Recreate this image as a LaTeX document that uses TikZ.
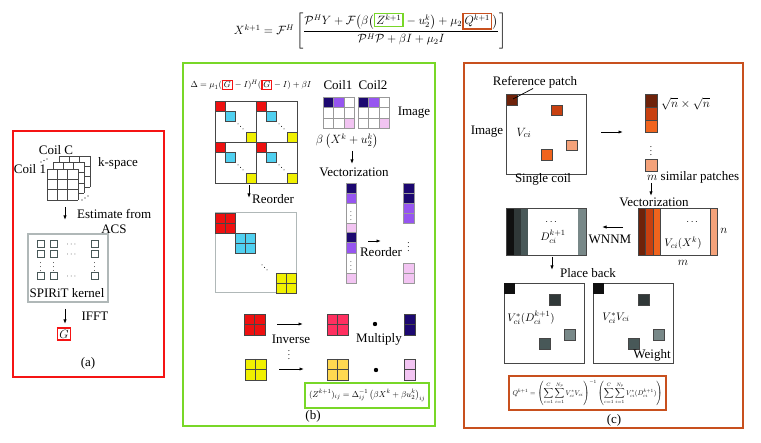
\documentclass[tikz,border=0pt]{standalone}
\usepackage{amsmath}
\usepackage{graphicx}
\usepackage{fontspec}
\setmainfont{Liberation Serif}
\usetikzlibrary{arrows.meta,calc}
\definecolor{redc}{RGB}{245,20,20}
\definecolor{greenc}{RGB}{120,215,40}
\definecolor{orangec}{RGB}{200,80,30}
\definecolor{cyanc}{RGB}{80,208,240}
\definecolor{yellowc}{RGB}{240,240,0}
\definecolor{blockred}{RGB}{238,16,16}
\definecolor{crimson}{RGB}{255,48,96}
\definecolor{goldc}{RGB}{255,216,80}
\definecolor{navyc}{RGB}{28,8,112}
\definecolor{purplec}{RGB}{150,85,240}
\definecolor{pinkc}{RGB}{242,196,242}
\definecolor{brownc}{RGB}{110,34,10}
\definecolor{org2}{RGB}{200,64,16}
\definecolor{org3}{RGB}{240,100,30}
\definecolor{org4}{RGB}{244,162,122}
\definecolor{blk}{RGB}{16,16,16}
\definecolor{dg1}{RGB}{48,56,56}
\definecolor{dg2}{RGB}{72,88,88}
\definecolor{dg3}{RGB}{120,136,136}
\definecolor{gridc}{RGB}{70,70,70}
\definecolor{lgray}{RGB}{176,184,184}
\newcommand\colbox[2]{{\setlength\fboxsep{1pt}\setlength\fboxrule{1.5pt}\fcolorbox{#1}{white}{$#2$}}}
\newcommand\kgrid[2]{\begin{scope}[shift={(#1,#2)}]
 \fill[white] (0,0) rectangle (31,31);
 \foreach \i in {0,10.33,20.67,31}{\draw[gridc,line width=0.7pt] (\i,0)--(\i,31); \draw[gridc,line width=0.7pt] (0,\i)--(31,\i);}
 \end{scope}}
% 2x2 block: x y size color
\newcommand\bblock[4]{\fill[#4] (#1,#2) rectangle ++(#3,#3);
 \draw[gridc,line width=0.6pt] (#1,#2) rectangle ++(#3,#3);
 \draw[gridc,line width=0.6pt] ($(#1,#2)+(0.5*#3,0)$) -- ++(0,#3);
 \draw[gridc,line width=0.6pt] ($(#1,#2)+(0,0.5*#3)$) -- ++(#3,0);}
\begin{document}
\begin{tikzpicture}[x=1pt,y=-1pt,font=\fontsize{13}{15}\selectfont,
  arr/.style={-{Latex[length=4.5pt,width=3.2pt]},line width=0.8pt},
  lbl/.style={inner sep=0pt},
  sq/.style={draw=dg2,line width=1pt,fill=white}]
\useasboundingbox (0,0) rectangle (761,443);
\fill[white] (0,0) rectangle (761,443);

% ---------- top formula
\node[lbl,font=\fontsize{11.5}{14}\selectfont] (topf) at (370,31)
 {$X^{k+1}=\mathcal{F}^{H}\left[\dfrac{\mathcal{P}^{H}Y+\mathcal{F}\bigl(\beta\bigl(\colbox{greenc}{Z^{k+1}}-u_2^{k}\bigr)+\mu_2\colbox{orangec}{Q^{k+1}}\bigr)}{\mathcal{P}^{H}\mathcal{P}+\beta I+\mu_2 I}\right]$};

% ---------- panel (a)
\draw[redc,line width=1.8pt] (13,131) rectangle (164,377);
\kgrid{59}{156}
\kgrid{53}{162.5}
\kgrid{47}{169}
\node[lbl] (coilC) at (56,150) {Coil C};
\node[lbl] (coil1) at (30,169) {Coil 1};
\foreach \p in {(41,162),(44,160.5),(47,159)} \fill \p circle (0.6);
\foreach \p in {(82,200),(85,198),(88,196)} \fill \p circle (0.6);
\node[lbl] (kspace) at (118,163) {k-space};
\coordinate (a1s) at (65,207); \coordinate (a1e) at (65,220);
\draw[arr] (a1s) -- (a1e);
\node[lbl,anchor=west] (est) at (77,214) {Estimate from};
\node[lbl] (acs) at (114,229) {ACS};
\draw[lgray,line width=1.2pt] (28,234) rectangle (108,302);
\foreach \x in {37,50,91}{\foreach \y in {241,251,273}{\draw[sq] (\x,\y) rectangle ++(7,7);}
  \node[lbl,font=\fontsize{8}{8}\selectfont] at (\x+3.5,264) {$\vdots$};}
\foreach \y in {241,251,273} \node[lbl,font=\fontsize{8}{8}\selectfont] at (72,\y+3.5) {$\cdots$};
\node[lbl] (spirit) at (67,293) {SPIRiT kernel};
\coordinate (a2s) at (65,309); \coordinate (a2e) at (65,324);
\draw[arr] (a2s) -- (a2e);
\node[lbl] (ifft) at (95,316) {IFFT};
\node[lbl] (G) at (64,334) {\colbox{redc}{G}};
\node[lbl] (la) at (88,363) {(a)};

% ---------- panel (b)
\draw[greenc,line width=1.8pt] (183,63) rectangle (435,426);
\node[lbl,font=\fontsize{11}{13}\selectfont] (delta) at (251,85)
 {\resizebox{121pt}{!}{$\Delta=\mu_1(\colbox{redc}{G}-I)^{H}(\colbox{redc}{G}-I)+\beta I$}};
\foreach \bx in {215,256}{\foreach \by in {101,142}{
  \fill[blockred] (\bx,\by) rectangle ++(10,10);
  \fill[cyanc] (\bx+10,\by+10) rectangle ++(10,10);
  \fill[yellowc] (\bx+31,\by+31) rectangle ++(10,10);
  \draw[gridc,line width=0.5pt] (\bx,\by) rectangle ++(10,10) (\bx+10,\by+10) rectangle ++(10,10) (\bx+31,\by+31) rectangle ++(10,10);
  \foreach \d in {0,2.5,5} \fill (\bx+23+\d,\by+23+\d) circle (0.5);
}}
\draw[gridc,line width=0.8pt] (215,101) rectangle (297,183) (256,101) -- (256,183) (215,142) -- (297,142);
\coordinate (b1s) at (249,185); \coordinate (b1e) at (249,198);
\draw[arr] (b1s) -- (b1e);
\node[lbl,anchor=west] (reord1) at (252,199) {Reorder};
\draw[lgray,line width=1pt] (215,213) rectangle (296,293);
\bblock{215}{213}{20}{blockred}
\bblock{235}{233}{20}{cyanc}
\bblock{276}{273}{20}{yellowc}
\foreach \d in {0,2.5,5} \fill (262+\d,265+\d) circle (0.5);

\node[lbl] (coil1l) at (338,85) {Coil1};
\node[lbl] (coil2l) at (373,85) {Coil2};
\foreach \gx in {323,358}{
  \fill[navyc] (\gx,97) rectangle ++(10.5,10.5);
  \fill[purplec] (\gx+10.5,97) rectangle ++(10.5,10.5);
  \fill[pinkc] (\gx+21,118) rectangle ++(10.5,10.5);
  \foreach \i in {0,10.5,21,31.5}{\draw[gray!80,line width=0.6pt] (\gx+\i,97)--(\gx+\i,128.5); \draw[gray!80,line width=0.6pt] (\gx,97+\i)--(\gx+31.5,97+\i);}
}
\node[lbl] (imagel) at (414,113) {Image};
\node[lbl,font=\fontsize{12}{14}\selectfont] (betaf) at (347,141) {$\beta\left(X^{k}+u_2^{k}\right)$};
\coordinate (b2s) at (352,151); \coordinate (b2e) at (352,164);
\draw[arr] (b2s) -- (b2e);
\node[lbl] (vect1) at (354,172) {Vectorization};
% left vector
\fill[navyc] (346,183) rectangle (356,193);
\fill[purplec] (346,193) rectangle (356,203);
\fill[pinkc] (346,223) rectangle (356,232);
\fill[navyc] (346,232) rectangle (356,242);
\fill[purplec] (346,242) rectangle (356,253);
\fill[pinkc] (346,273) rectangle (356,283);
\draw[gray!80,line width=0.6pt] (346,183) rectangle (356,283);
\foreach \y in {193,203,223,232,242,253,273} \draw[gray!80,line width=0.6pt] (346,\y) -- (356,\y);
\node[lbl,font=\fontsize{7}{7}\selectfont] at (351,213) {$\vdots$};
\node[lbl,font=\fontsize{7}{7}\selectfont] at (351,263) {$\vdots$};
% right vector
\fill[navyc] (403,183) rectangle (414,203);
\fill[purplec] (403,203) rectangle (414,223);
\fill[pinkc] (403,263) rectangle (414,283);
\draw[gray!80,line width=0.6pt] (403,183) rectangle (414,223) (403,193)--(414,193) (403,203)--(414,203) (403,213)--(414,213);
\draw[gray!80,line width=0.6pt] (403,263) rectangle (414,283) (403,273)--(414,273);
\node[lbl,font=\fontsize{9}{9}\selectfont] at (408.5,244) {$\vdots$};
\coordinate (b3s) at (368,241); \coordinate (b3e) at (381,241);
\draw[arr] (b3s) -- (b3e);
\node[lbl] (reord2) at (381,252) {Reorder};
% bottom
\bblock{244}{314}{21}{blockred}
\bblock{327}{314}{21}{crimson}
\bblock{245}{359}{21}{yellowc}
\bblock{327}{359}{21}{goldc}
\fill[navyc] (404,314) rectangle (415,335);
\draw[gridc,line width=0.6pt] (404,314) rectangle (415,335) (404,324.5)--(415,324.5);
\fill[pinkc] (404,359) rectangle (415,380);
\draw[gridc,line width=0.6pt] (404,359) rectangle (415,380) (404,369.5)--(415,369.5);
\coordinate (b4s) at (277,324); \coordinate (b4e) at (303,324);
\draw[arr] (b4s) -- (b4e);
\coordinate (b5s) at (279,369); \coordinate (b5e) at (304,369);
\draw[arr] (b5s) -- (b5e);
\node[lbl] (inv) at (291,339) {Inverse};
\node[lbl,font=\fontsize{9}{9}\selectfont] at (289,352) {$\vdots$};
\node[lbl] (mult) at (379,339) {Multiply};
\fill (375,324) circle (2.2);
\fill (376,370) circle (2.2);
\draw[greenc,line width=1.8pt] (305,383) rectangle (429,408);
\node[lbl,font=\fontsize{11}{12}\selectfont] (zf) at (367,395.5)
 {\resizebox{116pt}{!}{$(Z^{k+1})_{ij}=\Delta_{ij}^{-1}\left(\beta X^{k}+\beta u_2^{k}\right)_{ij}$}};
\node[lbl] (lb) at (313,416) {(b)};

% ---------- panel (c)
\draw[orangec,line width=1.8pt] (464,63) rectangle (743,428);
\node[lbl] (refp) at (535,82) {Reference patch};
\draw[gridc,line width=0.8pt] (506,94) rectangle (586,174);
\fill[brownc] (506,94) rectangle ++(11,11);
\draw[gridc,line width=0.5pt] (506,94) rectangle ++(11,11);
\draw[gridc,line width=0.5pt,fill=org2] (551,105) rectangle ++(11,10);
\draw[gridc,line width=0.5pt,fill=org4] (566,140) rectangle ++(11,10);
\draw[gridc,line width=0.5pt,fill=org3] (541,149) rectangle ++(11,11);
\coordinate (refs) at (513,99);
\draw[line width=0.7pt] (refs) -- (533,88.5);
\node[lbl] (vci) at (524,133) {$V_{ci}$};
\node[lbl] (imgc) at (487,132) {Image};
\node[lbl] (single) at (543,179) {Single coil};
\coordinate (c1s) at (601,132); \coordinate (c1e) at (623,132);
\draw[arr] (c1s) -- (c1e);
\draw[gridc,line width=0.5pt,fill=brownc] (645,94) rectangle (657,107);
\draw[gridc,line width=0.5pt,fill=org2] (645,107) rectangle (657,120);
\draw[gridc,line width=0.5pt,fill=org3] (645,120) rectangle (657,132);
\node[lbl,font=\fontsize{9}{9}\selectfont] at (651,148) {$\vdots$};
\draw[gridc,line width=0.5pt,fill=org4] (645,159) rectangle (657,171);
\node[lbl,anchor=west] (sqrtn) at (661,104) {$\sqrt{n}\times\sqrt{n}$};
\node[lbl,anchor=west] (msim) at (647,177) {$m$ similar patches};
\coordinate (c2s) at (651,183); \coordinate (c2e) at (651,196);
\draw[arr] (c2s) -- (c2e);
\node[lbl] (vect2) at (654,202) {Vectorization};
% right matrix
\fill[brownc] (638,208) rectangle (645,255);
\fill[org2] (645,208) rectangle (653,255);
\fill[org3] (653,208) rectangle (660,255);
\fill[org4] (710,208) rectangle (717,255);
\draw[gridc,line width=0.6pt] (638,208) rectangle (717,255) (645,208)--(645,255) (653,208)--(653,255) (660,208)--(660,255) (710,208)--(710,255);
\node[lbl,font=\fontsize{10}{10}\selectfont] at (693,222) {$\cdots$};
\node[lbl,font=\fontsize{11}{12}\selectfont] (vcix) at (683,243) {$V_{ci}(X^{k})$};
\node[lbl] (nl) at (724,231) {$n$};
\node[lbl] (ml) at (683,263) {$m$};
\coordinate (c3s) at (623,227); \coordinate (c3e) at (602,227);
\draw[arr] (c3s) -- (c3e);
\node[lbl] (wnnm) at (610,239) {WNNM};
% left matrix
\fill[blk] (506,208) rectangle (514,255);
\fill[dg1] (514,208) rectangle (521,255);
\fill[dg2] (521,208) rectangle (528,255);
\fill[dg3] (578,208) rectangle (586,255);
\draw[gridc,line width=0.6pt] (506,208) rectangle (586,255);
\node[lbl,font=\fontsize{10}{10}\selectfont] at (552,222) {$\cdots$};
\node[lbl,font=\fontsize{11}{12}\selectfont] (dci) at (553,237) {$D_{ci}^{k+1}$};
\coordinate (c4s) at (552,257); \coordinate (c4e) at (552,270);
\draw[arr] (c4s) -- (c4e);
\node[lbl] (placeb) at (588,273) {Place back};
\foreach \ox in {0,89}{
  \draw[gridc,line width=0.8pt] (504+\ox,283) rectangle ++(80,80);
  \fill[blk] (504+\ox,283) rectangle ++(11,11);
  \draw[gridc,line width=0.5pt,fill=dg1] (549+\ox,294) rectangle ++(11,11);
  \draw[gridc,line width=0.5pt,fill=dg3] (564+\ox,329) rectangle ++(11,11);
  \draw[gridc,line width=0.5pt,fill=dg2] (539+\ox,338) rectangle ++(11,11);
}
\node[lbl,font=\fontsize{11}{12}\selectfont] (vdci) at (531,318) {$V_{ci}^{*}(D_{ci}^{k+1})$};
\node[lbl,font=\fontsize{11}{12}\selectfont] (vv) at (616,318) {$V_{ci}^{*}V_{ci}$};
\node[lbl] (weight) at (652,355) {Weight};
\draw[orangec,line width=1.8pt] (509,376) rectangle (666,410);
\node[lbl,font=\fontsize{10}{12}\selectfont] (qf) at (587.5,393)
 {\resizebox{150pt}{!}{$\displaystyle Q^{k+1}=\left(\sum_{c=1}^{C}\sum_{i=1}^{N_p}V_{ci}^{*}V_{ci}\right)^{-1}\left(\sum_{c=1}^{C}\sum_{i=1}^{N_p}V_{ci}^{*}(D_{ci}^{k+1})\right)$}};
\node[lbl] (lc) at (614,420) {(c)};
\end{tikzpicture}
\end{document}
